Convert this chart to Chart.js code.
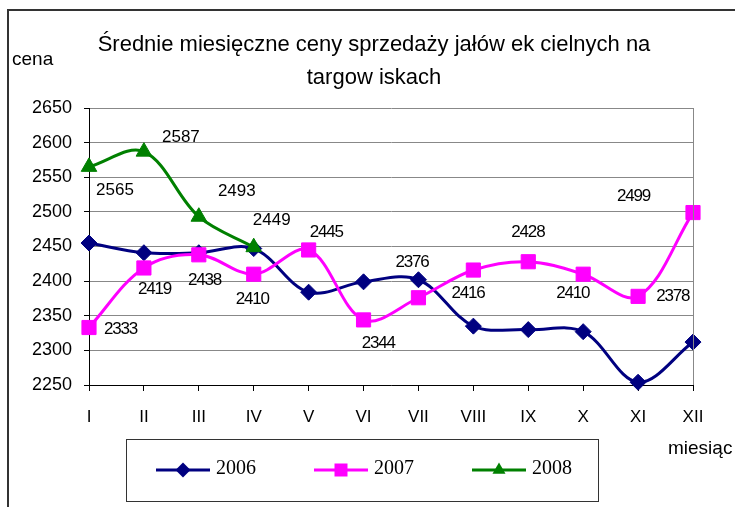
<!DOCTYPE html>
<html lang="pl">
<head>
  <meta charset="UTF-8">
  <title>Średnie miesięczne ceny</title>
  <style>
    *{
      margin: 0;
      padding: 0;
    }
    body{
      background: #fff;
      width: 735px;
      height: 507px;
      overflow: hidden;
    }
  </style>
</head>
<body>
  <canvas id="myChart" width="735" height="507"></canvas>
  <script src="https://cdn.jsdelivr.net/npm/chart.js"></script>
  <script>
    const months = ['I', 'II', 'III', 'IV', 'V', 'VI', 'VII', 'VIII', 'IX', 'X', 'XI', 'XII'];
    const years = ['2006', '2007', '2008'];
    const prices2006 = [2455, 2441, 2441, 2447, 2384, 2399, 2402, 2335, 2330, 2327, 2254, 2312];
    const prices2007 = [2333, 2419, 2438, 2410, 2445, 2344, 2376, 2416, 2428, 2410, 2378, 2499];
    const prices2008 = [2565, 2587, 2493, 2449, null, null, null, null, null, null, null, null];
    const yTicks = [2250, 2300, 2350, 2400, 2450, 2500, 2550, 2600, 2650];

    // where each value label sits, relative to its point (px)
    const labelOffsets2007 = [[31, 2], [10, 21], [5, 26], [-2, 25], [17, -18], [14, 23], [-7, -35], [-6, 23], [-1, -29], [-11, 19], [34, 0], [-60, -16]];
    const labelOffsets2008 = [[26, 23], [37, -14], [38, -25], [18, -27]];

    const sans = '"Liberation Sans", Arial, sans-serif';
    const serif = '"Liberation Serif", "Times New Roman", serif';

    const data = {
      labels: months,
      datasets: [{
        label: years[0],
        data: prices2006,
        borderColor: '#000080',
        backgroundColor: '#000080',
        pointStyle: 'rectRot',
        pointRadius: 8,
        order: 3
      }, {
        label: years[1],
        data: prices2007,
        borderColor: '#ff00ff',
        backgroundColor: '#ff00ff',
        pointStyle: 'rect',
        pointRadius: 10,
        order: 2,
        valueLabels: labelOffsets2007,
        labelSpacing: -1.2
      }, {
        label: years[2],
        data: prices2008,
        borderColor: '#008000',
        backgroundColor: '#008000',
        pointStyle: 'triangle',
        pointRadius: 9,
        order: 1,
        valueLabels: labelOffsets2008,
        labelSpacing: 0
      }]
    };

    function marker(ctx, style, x, y, r){
      ctx.beginPath();
      if (style === 'rectRot'){
        ctx.moveTo(x - r, y); ctx.lineTo(x, y - r); ctx.lineTo(x + r, y); ctx.lineTo(x, y + r);
      } else if (style === 'rect'){
        ctx.rect(x - r, y - r, 2 * r, 2 * r);
      } else {
        ctx.moveTo(x, y - r); ctx.lineTo(x + r * 0.87, y + r * 0.5); ctx.lineTo(x - r * 0.87, y + r * 0.5);
      }
      ctx.closePath();
      ctx.fill();
    }

    //labels next to points
    const valueLabels = {
      id: 'valueLabels',
      afterDatasetsDraw(chart){
        const ctx = chart.ctx;
        ctx.save();
        ctx.fillStyle = '#000';
        ctx.font = '17px ' + sans;
        ctx.textAlign = 'center';
        ctx.textBaseline = 'middle';
        chart.data.datasets.forEach((ds, i) => {
          if (!ds.valueLabels) return;
          ctx.letterSpacing = ds.labelSpacing + 'px';
          const meta = chart.getDatasetMeta(i);
          meta.data.forEach((pt, j) => {
            if (ds.data[j] == null) return;
            const off = ds.valueLabels[j];
            ctx.fillText(String(ds.data[j]), pt.x + off[0] - ds.labelSpacing / 2, pt.y + off[1]);
          });
        });
        ctx.restore();
      }
    };

    //frame, titles, legend box
    const decor = {
      id: 'decor',
      afterDraw(chart){
        const ctx = chart.ctx;
        const area = chart.chartArea;
        ctx.save();
        ctx.strokeStyle = '#333';
        ctx.lineWidth = 2;
        ctx.beginPath();
        ctx.moveTo(8, 507); ctx.lineTo(8, 10); ctx.lineTo(735, 10);
        ctx.stroke();

        ctx.strokeStyle = '#888';
        ctx.lineWidth = 1;
        ctx.beginPath();
        ctx.moveTo(Math.round(area.right) + 0.5, area.top);
        ctx.lineTo(Math.round(area.right) + 0.5, area.bottom);
        ctx.stroke();

        ctx.fillStyle = '#000';
        ctx.textAlign = 'center';
        ctx.textBaseline = 'middle';
        ctx.font = '22px ' + sans;
        ctx.fillText('Średnie miesięczne ceny sprzedaży jałów ek cielnych na', 374, 45);
        ctx.fillText('targow iskach', 374, 78);

        ctx.font = '19px ' + sans;
        ctx.textAlign = 'left';
        ctx.fillText('cena', 12, 60);
        ctx.fillText('miesiąc', 668, 449);

        ctx.strokeStyle = '#333';
        ctx.strokeRect(126.5, 439.5, 472, 62);
        const starts = [156, 314, 472];
        ctx.font = '20px ' + serif;
        chart.data.datasets.forEach((ds, i) => {
          const x = starts[i];
          ctx.strokeStyle = ds.borderColor;
          ctx.fillStyle = ds.borderColor;
          ctx.lineWidth = 3;
          ctx.beginPath();
          ctx.moveTo(x, 470); ctx.lineTo(x + 54, 470);
          ctx.stroke();
          marker(ctx, ds.pointStyle, x + 27, 470, ds.pointStyle === 'rect' ? 6.5 : 7.5);
          ctx.fillStyle = '#000';
          ctx.fillText(ds.label, x + 60, 469);
        });
        ctx.restore();
      }
    };

    const config = {
      type: 'line',
      data,
      options: {
        responsive: false,
        animation: false,
        layout: {
          padding: { top: 108, right: 42, left: 0, bottom: 0 }
        },
        elements: {
          line: { borderWidth: 3, tension: 0.35 },
          point: { borderWidth: 1 }
        },
        datasets: {
          line: { clip: false, spanGaps: false }
        },
        plugins: {
          legend: { display: false },
          tooltip: { enabled: false },
          title: { display: false }
        },
        scales: {
          x: {
            offset: false,
            grid: { drawOnChartArea: false, drawTicks: true, tickLength: 6, tickColor: '#000' },
            border: { color: '#000', width: 1 },
            ticks: { color: '#000', font: { family: sans, size: 17 }, padding: 16, maxRotation: 0, autoSkip: false },
            afterFit(scale){ scale.height = 122; }
          },
          y: {
            min: yTicks[0],
            max: yTicks[yTicks.length - 1],
            afterBuildTicks(scale){ scale.ticks = yTicks.map(v => ({ value: v })); },
            grid: { color: '#888', tickColor: '#000', tickLength: 5 },
            border: { color: '#000', width: 1 },
            ticks: { color: '#000', font: { family: sans, size: 18 }, padding: 12, callback: v => String(v) },
            afterFit(scale){ scale.width = 89; }
          }
        }
      },
      plugins: [valueLabels, decor]
    };

    const myChart = new Chart(document.getElementById('myChart'), config);
  </script>
</body>
</html>
